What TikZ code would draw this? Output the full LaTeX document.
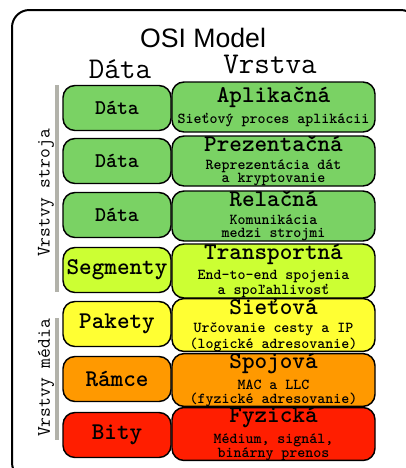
\documentclass[tikz,border=0pt]{standalone}
\usepackage{fontspec}
\setmainfont{Liberation Sans}
\usetikzlibrary{positioning}
\definecolor{lgreen}{RGB}{122,210,100}
\definecolor{lime}{RGB}{204,255,51}
\definecolor{lyellow}{RGB}{255,255,51}
\definecolor{lorange}{RGB}{255,153,0}
\definecolor{lred}{RGB}{255,30,0}
\definecolor{bargray}{RGB}{178,178,170}
\tikzset{box/.style = {draw, line width=1.1pt, rounded corners=9pt,
                       inner sep=0pt, align=center},
         databox/.style = {box, minimum width=81pt, minimum height=33.75pt,
                           font=\ttfamily\bfseries\fontsize{18}{18}\selectfont},
         layerbox/.style = {box, minimum width=152.25pt, minimum height=37.5pt,
                            font=\ttfamily\bfseries\fontsize{11.4}{10}\selectfont},
         head/.style = {font=\ttfamily\fontsize{22.6}{24}\selectfont},
         side/.style = {rotate=90, font=\ttfamily\fontsize{14.3}{16}\selectfont},
         bar/.style = {bargray, line width=2.4pt}}
\newcommand{\lname}[1]{{\fontsize{18}{18}\selectfont #1}\\[3.5pt]}

\begin{document}
\begin{tikzpicture}[x=0.75pt, y=-0.75pt]
    \useasboundingbox (0,0) rectangle (405,468);
    \draw [line width=1.5pt, rounded corners=13pt] (12,10) rectangle (418,480);
    \node [anchor=base, font=\fontsize{20}{24}\selectfont] (title) at (203,47) {OSI Model};
    \node [anchor=base, head] (hdata) at (120,78) {Dáta};
    \node [anchor=base, head] (hlayer) at (270,73) {Vrstva};
    \draw [bar] (57,85) -- (57,292);
    \draw [bar] (57,318) -- (57,440);
    \node [side] (machine) at (46,193) {Vrstvy stroja};
    \node [side] (media) at (46,378) {Vrstvy média};
    % PDU column
    \node [databox, fill=lgreen, font=\ttfamily\bfseries\fontsize{15.7}{16}\selectfont] (d7) at (117,108) {Dáta};
    \node [databox, fill=lgreen, font=\ttfamily\bfseries\fontsize{15.7}{16}\selectfont] (d6) at (117,161) {Dáta};
    \node [databox, fill=lgreen, font=\ttfamily\bfseries\fontsize{15.7}{16}\selectfont] (d5) at (117,215) {Dáta};
    \node [databox, fill=lime] (d4) at (117,270) {Segmenty};
    \node [databox, fill=lyellow] (d3) at (117,324) {Pakety};
    \node [databox, fill=lorange] (d2) at (117,379) {Rámce};
    \node [databox, fill=lred] (d1) at (117,435) {Bity};
    % layer column
    \node [layerbox, fill=lgreen] (l7) at (273.5,107) {\lname{Aplikačná}Sieťový proces aplikácii};
    \node [layerbox, fill=lgreen] (l6) at (273.5,161) {\lname{Prezentačná}Reprezentácia dát\\a kryptovanie};
    \node [layerbox, fill=lgreen] (l5) at (273.5,216) {\lname{Relačná}Komunikácia\\medzi strojmi};
    \node [layerbox, fill=lime] (l4) at (273.5,271) {\lname{Transportná}End-to-end spojenia\\a spoľahlivosť};
    \node [layerbox, fill=lyellow] (l3) at (273.5,325) {\lname{Sieťová}Určovanie cesty a IP\\(logické adresovanie)};
    \node [layerbox, fill=lorange] (l2) at (273.5,380) {\lname{Spojová}MAC a LLC\\(fyzické adresovanie)};
    \node [layerbox, fill=lred] (l1) at (273.5,434) {\lname{Fyzická}Médium, signál,\\binárny prenos};
\end{tikzpicture}
\end{document}
